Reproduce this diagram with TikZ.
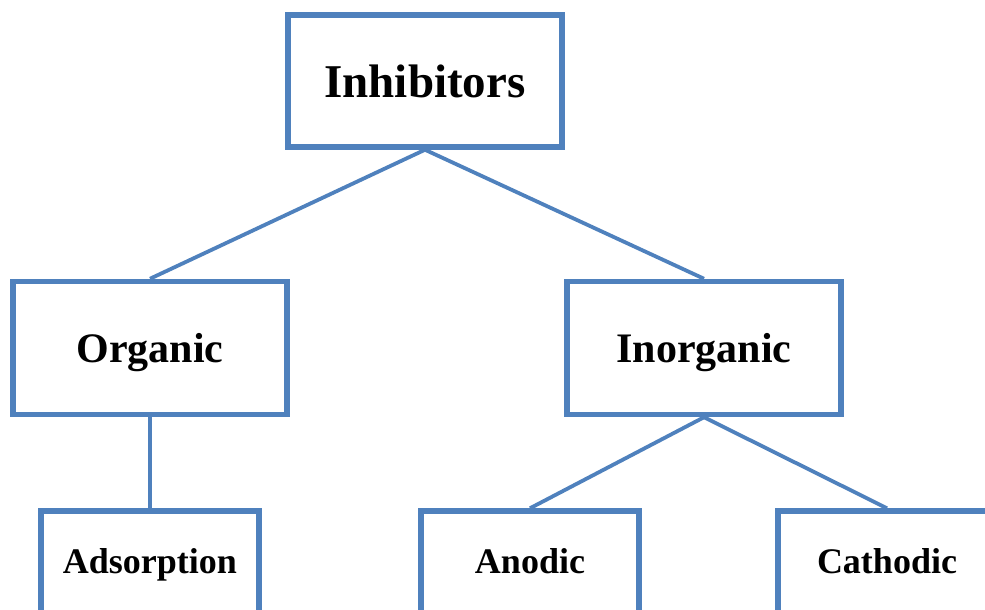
\documentclass[tikz,border=0pt]{standalone}
\usepackage{fontspec}
\setmainfont{Liberation Serif}
\usepackage{xcolor}
\definecolor{boxblue}{HTML}{4F81BD}

\begin{document}
\begin{tikzpicture}
      [x=1pt,y=-1pt,
      box/.style={draw=boxblue,line width=5.5pt,fill=white,inner sep=0pt,text depth=0pt,
        minimum width=274pt,minimum height=133pt,font=\fontsize{42}{46}\selectfont\bfseries},
      leaf/.style={box,minimum width=218pt,minimum height=110pt,text depth=10pt,
        font=\fontsize{36}{40}\selectfont\bfseries},
      link/.style={draw=boxblue,line width=3.8pt}]
     \clip (0,0) rectangle (985,610);
     \node[box,minimum height=132pt,font=\fontsize{47}{50}\selectfont\bfseries] (inhib) at (425,81) {Inhibitors};
     \node[box] (org) at (150,348) {Organic};
     \node[box] (inorg) at (704,348) {Inorganic};
     \node[leaf] (ads) at (150,566) {Adsorption};
     \node[leaf] (anod) at (530,566) {Anodic};
     \node[leaf] (cath) at (887,566) {Cathodic};
     % connectors
     \draw[link] (inhib.south) -- (org.north);
     \draw[link] (inhib.south) -- (inorg.north);
     \draw[link] (org.south) -- (ads.north);
     \draw[link] (inorg.south) -- (anod.north);
     \draw[link] (inorg.south) -- (cath.north);
    \end{tikzpicture}
\end{document}
